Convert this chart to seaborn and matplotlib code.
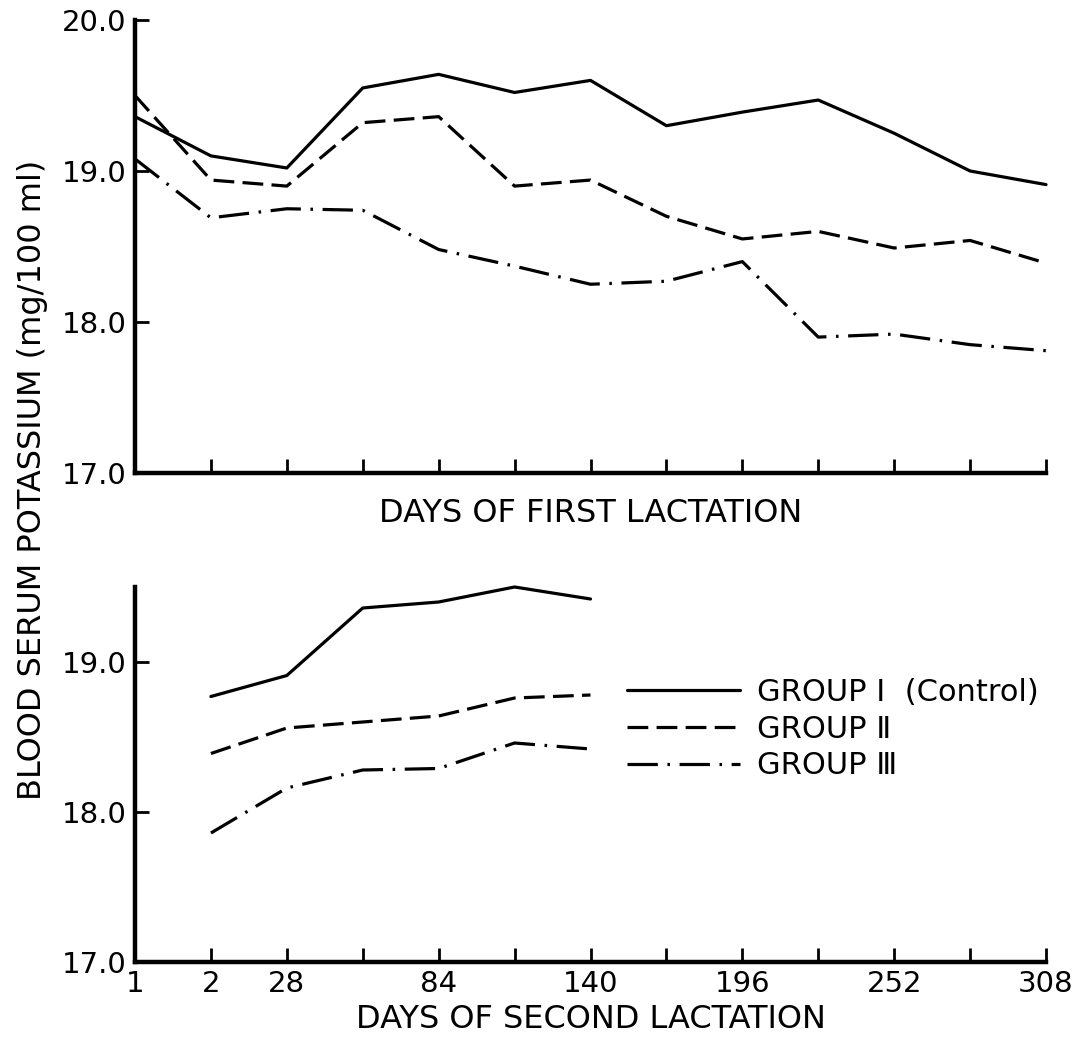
import numpy as np
import pandas as pd
import matplotlib
matplotlib.use("Agg")
import matplotlib.pyplot as plt
import seaborn as sns

# tick positions (equal spacing) and labels for the day axis
positions = list(range(13))
day_labels = ["1", "2", "28", "", "84", "", "140", "", "196", "", "252", "", "308"]

groups = ["GROUP \u2160  (Control)", "GROUP \u2161", "GROUP \u2162"]

# first lactation, positions 0..12
first_g1 = [19.36, 19.10, 19.02, 19.55, 19.64, 19.52, 19.60, 19.30, 19.39, 19.47, 19.25, 19.00, 18.91]
first_g2 = [19.50, 18.94, 18.90, 19.32, 19.36, 18.90, 18.94, 18.70, 18.55, 18.60, 18.49, 18.54, 18.39]
first_g3 = [19.08, 18.69, 18.75, 18.74, 18.48, 18.37, 18.25, 18.27, 18.40, 17.90, 17.92, 17.85, 17.81]

# second lactation, positions 1..6
second_pos = [1, 2, 3, 4, 5, 6]
second_g1 = [18.77, 18.91, 19.36, 19.40, 19.50, 19.42]
second_g2 = [18.39, 18.56, 18.60, 18.64, 18.76, 18.78]
second_g3 = [17.86, 18.16, 18.28, 18.29, 18.46, 18.42]

first = pd.DataFrame({
    "pos": positions * 3,
    "value": first_g1 + first_g2 + first_g3,
    "group": [groups[0]] * 13 + [groups[1]] * 13 + [groups[2]] * 13,
})
second = pd.DataFrame({
    "pos": second_pos * 3,
    "value": second_g1 + second_g2 + second_g3,
    "group": [groups[0]] * 6 + [groups[1]] * 6 + [groups[2]] * 6,
})

sns.set_style("white")
plt.rcParams["font.family"] = ["DejaVu Sans"]
plt.rcParams["text.color"] = "black"
plt.rcParams["axes.labelcolor"] = "black"

dashes = {groups[0]: "", groups[1]: (6.5, 2.6), groups[2]: (9.5, 3.0, 0.8, 3.0)}
palette = {g: "black" for g in groups}

fig = plt.figure(figsize=(10.89, 10.52), dpi=100)
ax1 = fig.add_axes([135 / 1089, 1 - 473 / 1052, 911 / 1089, 453 / 1052])
ax2 = fig.add_axes([135 / 1089, 1 - 962 / 1052, 911 / 1089, 375 / 1052])

for ax, df in [(ax1, first), (ax2, second)]:
    sns.lineplot(data=df, x="pos", y="value", hue="group", style="group",
                 palette=palette, dashes=dashes, linewidth=2.3, ax=ax,
                 legend=False, clip_on=False)
    ax.set_xlim(0, 12)
    ax.set_xticks(positions)
    for s in ["top", "right"]:
        ax.spines[s].set_visible(False)
    for s in ["left", "bottom"]:
        ax.spines[s].set_linewidth(3.2)
        ax.spines[s].set_color("black")
    ax.tick_params(axis="both", direction="in", length=10, width=2,
                   bottom=True, left=True, color="black", labelcolor="black",
                   labelsize=21, pad=6)
    ax.set_ylabel("")

ax1.set_ylim(17, 20)
ax1.set_yticks([17, 18, 19, 20])
ax1.set_yticklabels(["17.0", "18.0", "19.0", "20.0"])
ax1.set_xticklabels([])
ax1.set_xlabel("DAYS OF FIRST LACTATION", fontsize=23, labelpad=12)

ax2.set_ylim(17, 19.5)
ax2.set_yticks([17, 18, 19])
ax2.set_yticklabels(["17.0", "18.0", "19.0"])
ax2.set_xticklabels(day_labels)
ax2.set_xlabel("DAYS OF SECOND LACTATION", fontsize=23, labelpad=4)

fig.text(33 / 1089, 1 - 480 / 1052, "BLOOD SERUM POTASSIUM (mg/100 ml)",
         rotation=90, va="center", ha="center", fontsize=23)

handles = [ax2.lines[i] for i in range(3)]
ax2.legend(handles, groups, loc="upper left", frameon=False,
           bbox_to_anchor=(627 / 1089, 1 - 678 / 1052),
           bbox_transform=fig.transFigure, fontsize=22, handlelength=3.7,
           handletextpad=0.55, labelspacing=0.25, borderpad=0, borderaxespad=0)

fig.savefig("out.png", dpi=100, facecolor="white")
